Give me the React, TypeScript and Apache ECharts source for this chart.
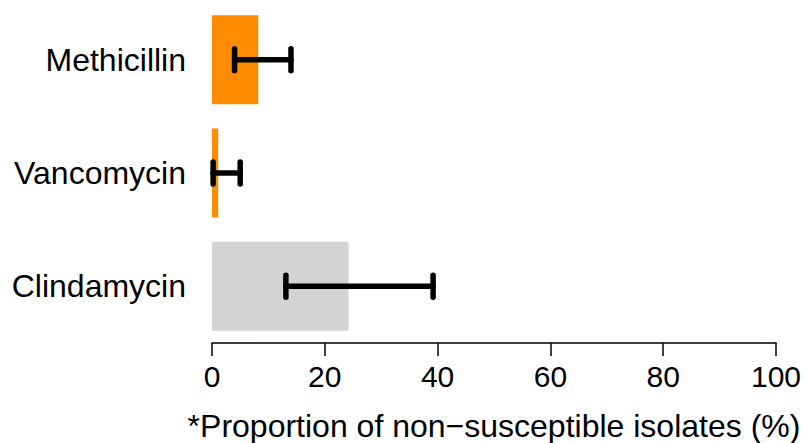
import React, { useEffect, useRef } from "react";
import * as echarts from "echarts";

const categories = ["Methicillin", "Vancomycin", "Clindamycin"];
const proportions = [8.2, 1.1, 24.2];
const lowerCI = [4.0, 0.2, 13.1];
const upperCI = [14.0, 5.0, 39.2];
const barColors = ["#FF8C00", "#FF8C00", "#D3D3D3"];
const xTicks = [0, 20, 40, 60, 80, 100];

export default function App() {
  const ref = useRef<HTMLDivElement>(null);
  useEffect(() => {
    if (!ref.current) return;
    const chart = echarts.init(ref.current, null, { renderer: "svg" });
    const font = "'Liberation Sans', Arial, sans-serif";
    chart.setOption({
      animation: false,
      grid: { left: 212, right: 30, top: 3, bottom: 100, containLabel: false, outerBoundsMode: "none" },
      xAxis: {
        type: "value",
        min: xTicks[0],
        max: xTicks[xTicks.length - 1],
        interval: 20,
        splitLine: { show: false },
        axisLine: { show: true, lineStyle: { color: "#000", width: 1.5 } },
        axisTick: { show: true, length: 13, lineStyle: { color: "#000", width: 1.5 } },
        axisLabel: { color: "#000", fontSize: 30, fontFamily: font, margin: 18 },
        name: "*Proportion of non\u2212susceptible isolates (%)",
        nameLocation: "middle",
        nameGap: 67,
        nameTextStyle: { color: "#000", fontSize: 32, fontFamily: font },
      },
      yAxis: {
        type: "category",
        data: categories,
        inverse: true,
        axisLine: { show: false },
        axisTick: { show: false },
        axisLabel: { color: "#000", fontSize: 32, fontFamily: font, margin: 26 },
      },
      series: [
        {
          type: "bar",
          data: proportions.map((v, i) => ({ value: v, itemStyle: { color: barColors[i] } })),
          barWidth: 89,
        },
        {
          type: "custom",
          data: categories.map((_, i) => [lowerCI[i], upperCI[i], i]),
          encode: { x: [0, 1], y: 2 },
          z: 10,
          renderItem: (params: any, api: any) => {
            const lo = api.coord([api.value(0), api.value(2)]);
            const hi = api.coord([api.value(1), api.value(2)]);
            const h = 11;
            const style = { stroke: "#000", lineWidth: 5.5, lineCap: "round" };
            return {
              type: "group",
              children: [
                { type: "line", shape: { x1: lo[0], y1: lo[1], x2: hi[0], y2: hi[1] }, style },
                { type: "line", shape: { x1: lo[0], y1: lo[1] - h, x2: lo[0], y2: lo[1] + h }, style },
                { type: "line", shape: { x1: hi[0], y1: hi[1] - h, x2: hi[0], y2: hi[1] + h }, style },
              ],
            };
          },
        },
      ],
    });
    return () => chart.dispose();
  }, []);
  return <div ref={ref} style={{ width: 806, height: 443, position: "absolute", left: 0, top: 0, background: "#fff" }} />;
}
